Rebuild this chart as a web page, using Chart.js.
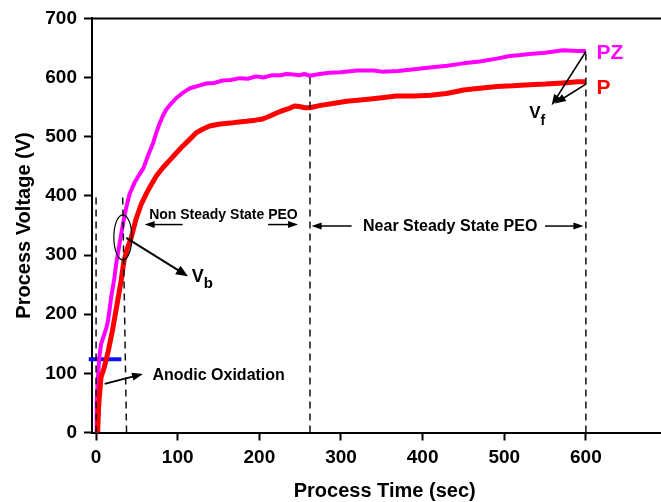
<!DOCTYPE html>
<html lang="en">
<head>
  <meta charset="UTF-8">
  <title>Process Voltage x Process Time</title>
  <script src="https://cdn.jsdelivr.net/npm/chart.js"></script>
  <style>
    html, body { margin: 0; padding: 0; background: #fff; }
    #grafico { display: block; }
  </style>
</head>
<body>
  <canvas id="grafico" width="661" height="502"></canvas>

  <script>
    const xTicks = [0, 100, 200, 300, 400, 500, 600];
    const yTicks = [0, 100, 200, 300, 400, 500, 600, 700];

    // curva PZ (magenta)
    const pzTime = [0, 0.5, 1, 2, 4, 6, 10, 12.6, 14.5, 16.3, 18.3, 22.4, 24.4, 28.5, 32.6, 36.6, 41, 47, 53, 58,
      63, 70, 74, 78, 82, 86, 92, 98, 106, 115, 125, 135, 145, 155, 165, 176, 186, 196, 205, 216,
      226, 233, 242, 249, 255, 262, 274, 286, 300, 320, 340, 350, 370, 390, 409, 430, 450, 470, 491, 505,
      520, 531, 550, 572, 590, 600];
    const pzVoltage = [0, 20, 49, 88, 127, 149, 166, 177, 188, 205, 227, 261, 283, 317, 350, 378, 403, 422, 436, 447,
      466, 490, 508, 523, 536, 546, 556, 565, 574, 582, 586, 590, 591, 595, 596, 599, 598, 602, 600, 604,
      604, 606, 605, 604, 606, 603, 606, 608, 609, 612, 612, 610, 611, 614, 617, 620, 624, 627, 632, 636,
      638, 640, 642, 646, 645, 645];

    // curva P (vermelha)
    const pTime = [2, 3, 4, 6, 10, 15, 20, 25.6, 30.5, 34, 38, 42.8, 49, 55, 62, 68, 74, 82, 90, 98,
      106, 115, 123, 131, 139, 150, 164, 175, 184, 195, 204, 213, 221, 230, 237, 243, 249, 256, 262, 275,
      290, 307, 330, 350, 368, 390, 410, 429, 440, 450, 470, 491, 510, 531, 550, 572, 590, 600];
    const pVoltage = [0, 40, 60, 93, 110, 138, 172, 216, 255, 289, 310, 328, 361, 385, 405, 420, 434, 448, 460, 472,
      484, 496, 507, 513, 518, 521, 523, 525, 526, 528, 530, 535, 540, 545, 548, 552, 551, 549, 549, 553,
      556, 560, 563, 566, 569, 569, 570, 573, 576, 579, 582, 585, 586, 588, 589, 591, 593, 593];

    // linha azul (anodic oxidation)
    const anodicTime = [-9, 31];
    const anodicVoltage = [124, 124];

    // linhas tracejadas verticais
    const markerTimeBottom = [0, 37.3, 262, 600];
    const markerTimeTop = [0, 32.5, 262, 600];
    const markerVoltageTop = [400, 405, 603, 644];

    const fonte = '"Liberation Sans", Arial, sans-serif';

    const pontos = (xs, ys) => xs.map((v, i) => ({ x: v, y: ys[i] }));

    const tracejadas = markerTimeBottom.map((t, i) => ({
      data: [{ x: t, y: 0 }, { x: markerTimeTop[i], y: markerVoltageTop[i] }],
      showLine: true,
      borderColor: '#111',
      borderWidth: 1.5,
      borderDash: [7, 5],
      pointRadius: 0
    }));

    function seta(ctx, x1, y1, x2, y2, largura, ponta, abertura) {
      const ang = Math.atan2(y2 - y1, x2 - x1);
      const c = Math.cos(ang), s = Math.sin(ang);
      ctx.lineWidth = largura;
      ctx.beginPath();
      ctx.moveTo(x1, y1);
      ctx.lineTo(x2 - c * ponta * 0.7, y2 - s * ponta * 0.7);
      ctx.stroke();
      ctx.beginPath();
      ctx.moveTo(x2, y2);
      ctx.lineTo(x2 - ponta * c + abertura * s, y2 - ponta * s - abertura * c);
      ctx.lineTo(x2 - ponta * c - abertura * s, y2 - ponta * s + abertura * c);
      ctx.closePath();
      ctx.fill();
    }

    const anotacoes = {
      id: 'anotacoes',
      afterDatasetsDraw(chart) {
        const { ctx, chartArea, scales: { x, y } } = chart;
        const px = v => x.getPixelForValue(v);
        const py = v => y.getPixelForValue(v);

        ctx.save();
        ctx.strokeStyle = '#000';
        ctx.fillStyle = '#000';

        // borda de cima
        ctx.lineWidth = 2;
        ctx.beginPath();
        ctx.moveTo(chartArea.left - 1, chartArea.top);
        ctx.lineTo(chartArea.right, chartArea.top);
        ctx.stroke();

        // elipse em volta do Vb
        ctx.lineWidth = 1.2;
        ctx.beginPath();
        ctx.ellipse(px(32.8), py(330), 9, 22.5, 0, 0, Math.PI * 2);
        ctx.stroke();

        // setas
        seta(ctx, px(37), py(329), px(112.6), py(264), 2, 12, 5);
        seta(ctx, px(106), py(351.5), px(59.5), py(351.5), 1.5, 10, 3.5);
        seta(ctx, px(210.7), py(351.5), px(247.4), py(351.5), 1.5, 10, 3.5);
        seta(ctx, px(313), py(349), px(264), py(349), 1.5, 10, 3.5);
        seta(ctx, px(550), py(349), px(597), py(349), 1.5, 10, 3.5);
        seta(ctx, px(10.5), py(82), px(57.5), py(99), 1.8, 11, 4);
        seta(ctx, px(600), py(644), px(558), py(553), 1.6, 11, 4);
        seta(ctx, px(600), py(589), px(562), py(556), 1.6, 11, 4);

        // textos
        ctx.textBaseline = 'alphabetic';
        ctx.textAlign = 'left';
        ctx.font = 'bold 14px ' + fonte;
        ctx.fillText('Non Steady State PEO', px(65), py(361.5));
        ctx.font = 'bold 16px ' + fonte;
        ctx.fillText('Near Steady State PEO', px(327), py(341));
        ctx.font = 'bold 16px ' + fonte;
        ctx.fillText('Anodic Oxidation', px(69), py(88));

        ctx.font = 'bold 21px ' + fonte;
        ctx.fillStyle = '#ff00ff';
        ctx.fillText('PZ', px(613), py(631));
        ctx.fillStyle = '#ff0000';
        ctx.fillText('P', px(613), py(572.5));

        ctx.fillStyle = '#000';
        ctx.font = 'bold 18px ' + fonte;
        let w = ctx.measureText('V').width;
        ctx.fillText('V', px(117.2), py(254.6));
        ctx.font = 'bold 15px ' + fonte;
        ctx.fillText('b', px(117.2) + w, py(254.6) + 6.5);

        ctx.font = 'bold 17px ' + fonte;
        w = ctx.measureText('V').width;
        ctx.fillText('V', px(530.5), py(532));
        ctx.font = 'bold 14px ' + fonte;
        ctx.fillText('f', px(530.5) + w, py(532) + 7);

        // titulos dos eixos
        ctx.font = 'bold 20px ' + fonte;
        ctx.textAlign = 'center';
        ctx.fillText('Process Time (sec)', 384.7, 496.5);
        ctx.save();
        ctx.translate(29.5, (chartArea.top + chartArea.bottom) / 2);
        ctx.rotate(-Math.PI / 2);
        ctx.fillText('Process Voltage (V)', 0, 0);
        ctx.restore();

        ctx.restore();
      }
    };

    const ctxGrafico = document.getElementById('grafico');
    new Chart(ctxGrafico, {
      type: 'scatter',
      data: {
        datasets: [
          ...tracejadas,
          {
            label: 'P',
            data: pontos(pTime, pVoltage),
            showLine: true,
            borderColor: '#ff0000',
            borderWidth: 5,
            pointRadius: 0,
            borderJoinStyle: 'round'
          },
          {
            label: 'PZ',
            data: pontos(pzTime, pzVoltage),
            showLine: true,
            borderColor: '#ff00ff',
            borderWidth: 4,
            pointRadius: 0,
            borderJoinStyle: 'round'
          },
          {
            label: 'Anodic',
            data: pontos(anodicTime, anodicVoltage),
            showLine: true,
            borderColor: '#0a14f0',
            borderWidth: 4,
            pointRadius: 0,
            clip: false
          }
        ]
      },
      options: {
        responsive: false,
        animation: false,
        layout: { padding: { top: 14.5, right: 0, left: 0, bottom: 0 } },
        plugins: {
          legend: { display: false },
          tooltip: { enabled: false }
        },
        scales: {
          x: {
            type: 'linear',
            min: -5,
            max: 692,
            afterBuildTicks: (s) => { s.ticks = xTicks.map(v => ({ value: v })); },
            afterFit: (s) => { s.height = 69.5; },
            grid: { drawOnChartArea: false, tickLength: 8, tickWidth: 2, tickColor: '#000' },
            border: { color: '#000', width: 2 },
            ticks: { color: '#000', padding: 6, maxRotation: 0, font: { family: fonte, size: 19, weight: 'bold' } }
          },
          y: {
            min: 0,
            max: 700,
            afterBuildTicks: (s) => { s.ticks = yTicks.map(v => ({ value: v })); },
            afterFit: (s) => { s.width = 92; },
            grid: { drawOnChartArea: false, tickLength: 8, tickWidth: 2, tickColor: '#000' },
            border: { color: '#000', width: 2 },
            ticks: { color: '#000', padding: 7, font: { family: fonte, size: 19, weight: 'bold' } }
          }
        }
      },
      plugins: [anotacoes]
    });
  </script>
</body>
</html>
